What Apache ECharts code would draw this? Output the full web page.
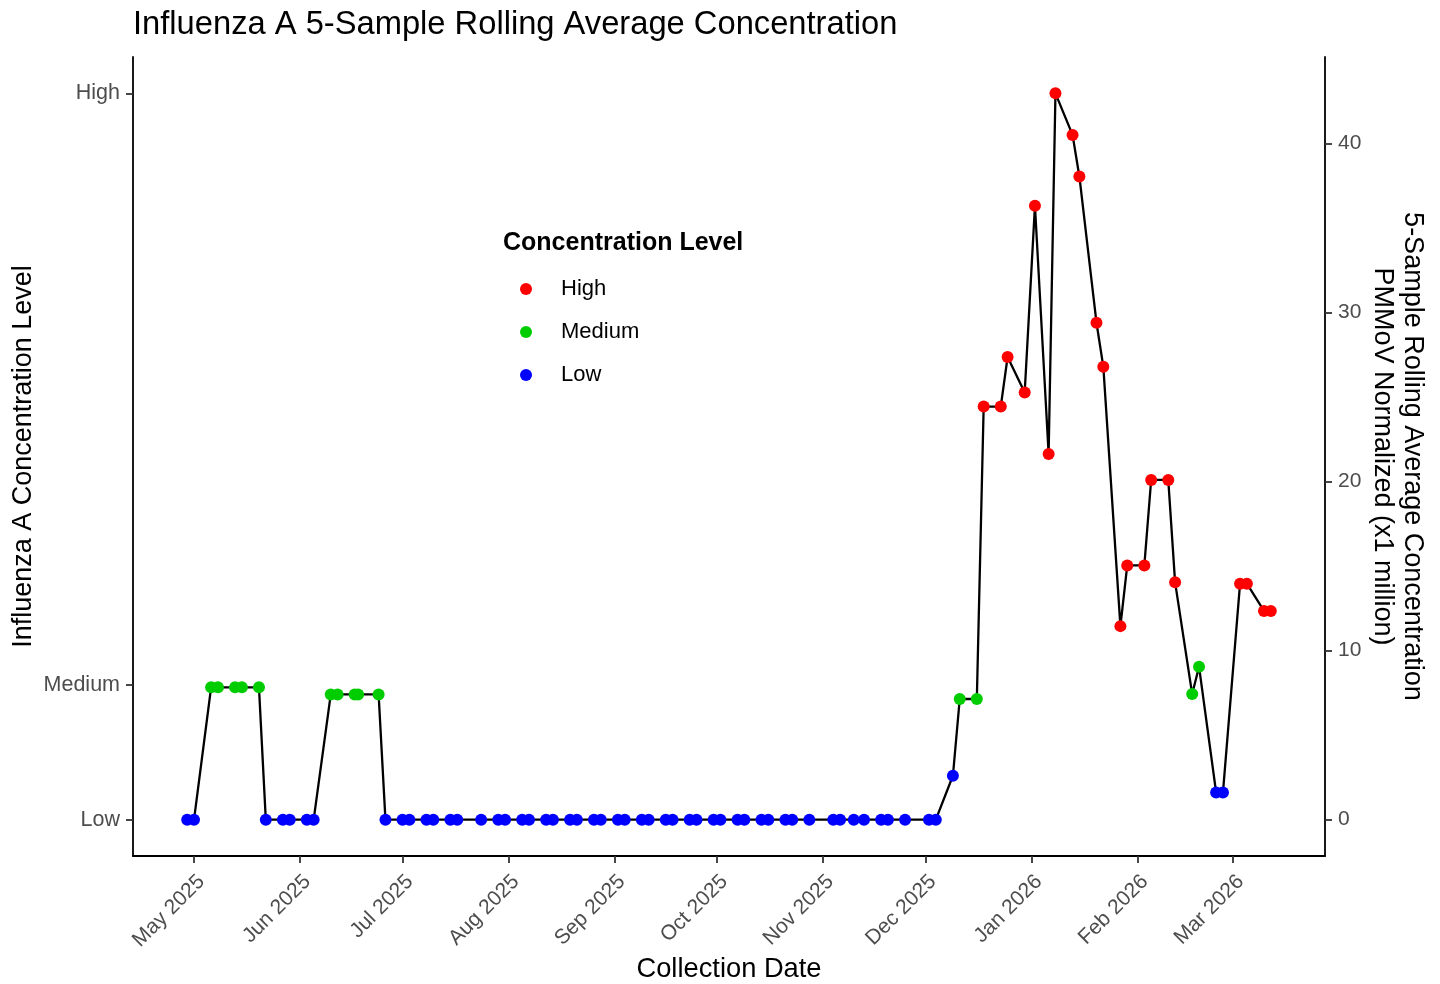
<!DOCTYPE html>
<html>
<head>
<meta charset="utf-8">
<script src="https://cdn.jsdelivr.net/npm/echarts@6/dist/echarts.min.js"></script>
<style>
html,body{margin:0;padding:0;background:#fff;}
#chart{width:1440px;height:984px;}
</style>
</head>
<body>
<div id="chart"></div>
<script>
// ---- data ----
const dates = [
 '2025-04-29','2025-05-01','2025-05-06','2025-05-08','2025-05-13','2025-05-15','2025-05-20','2025-05-22',
 '2025-05-27','2025-05-29','2025-06-03','2025-06-05','2025-06-10','2025-06-12','2025-06-17','2025-06-18',
 '2025-06-24','2025-06-26','2025-07-01','2025-07-03','2025-07-08','2025-07-10','2025-07-15','2025-07-17',
 '2025-07-24','2025-07-29','2025-07-31','2025-08-05','2025-08-07','2025-08-12','2025-08-14','2025-08-19',
 '2025-08-21','2025-08-26','2025-08-28','2025-09-02','2025-09-04','2025-09-09','2025-09-11','2025-09-16',
 '2025-09-18','2025-09-23','2025-09-25','2025-09-30','2025-10-02','2025-10-07','2025-10-09','2025-10-14',
 '2025-10-16','2025-10-21','2025-10-23','2025-10-28','2025-11-04','2025-11-06','2025-11-10','2025-11-13',
 '2025-11-18','2025-11-20','2025-11-25','2025-12-02','2025-12-04','2025-12-09','2025-12-11','2025-12-16',
 '2025-12-18','2025-12-23','2025-12-25','2025-12-30','2026-01-02','2026-01-06','2026-01-08','2026-01-13',
 '2026-01-15','2026-01-20','2026-01-22','2026-01-27','2026-01-29','2026-02-03','2026-02-05','2026-02-10',
 '2026-02-12','2026-02-17','2026-02-19','2026-02-24','2026-02-26','2026-03-03','2026-03-05','2026-03-10',
 '2026-03-12'
];
const values = [
 0,0,7.83,7.83,7.83,7.83,7.83,0,
 0,0,0,0,7.41,7.41,7.41,7.41,
 7.41,0,0,0,0,0,0,0,
 0,0,0,0,0,0,0,0,
 0,0,0,0,0,0,0,0,
 0,0,0,0,0,0,0,0,
 0,0,0,0,0,0,0,0,
 0,0,0,0,0,2.6,7.14,7.14,
 24.44,24.44,27.37,25.27,36.32,21.63,42.97,40.51,
 38.05,29.4,26.8,11.45,15.04,15.04,20.1,20.1,
 14.04,7.43,9.05,1.61,1.61,13.96,13.96,12.35,
 12.35
];
const levels = [
 'Low','Low','Medium','Medium','Medium','Medium','Medium','Low',
 'Low','Low','Low','Low','Medium','Medium','Medium','Medium',
 'Medium','Low','Low','Low','Low','Low','Low','Low',
 'Low','Low','Low','Low','Low','Low','Low','Low',
 'Low','Low','Low','Low','Low','Low','Low','Low',
 'Low','Low','Low','Low','Low','Low','Low','Low',
 'Low','Low','Low','Low','Low','Low','Low','Low',
 'Low','Low','Low','Low','Low','Low','Medium','Medium',
 'High','High','High','High','High','High','High','High',
 'High','High','High','High','High','High','High','High',
 'High','Medium','Medium','Low','Low','High','High','High',
 'High'
];
const levelNames = ['High','Medium','Low'];
const levelColors = {High:'#FF0000', Medium:'#00CD00', Low:'#0000FF'};
const levelTickLabels = ['Low','Medium','High'];
const levelTickValues = [0, 7.96, 42.97];
const concTicks = [0, 10, 20, 30, 40];
const monthTicks = ['2025-05-01','2025-06-01','2025-07-01','2025-08-01','2025-09-01','2025-10-01',
 '2025-11-01','2025-12-01','2026-01-01','2026-02-01','2026-03-01'];
const monthNames = ['Jan','Feb','Mar','Apr','May','Jun','Jul','Aug','Sep','Oct','Nov','Dec'];

// ---- build ----
function ts(s){const p=s.split('-').map(Number);return Date.UTC(p[0],p[1]-1,p[2]);}
const xs = dates.map(ts);
const xMin0 = Math.min(...xs), xMax0 = Math.max(...xs);
const xPad = (xMax0 - xMin0) * 0.05;
const yMax0 = Math.max(...values), yMin0 = 0;
const yPad = (yMax0 - yMin0) * 0.05;

const lineData = xs.map((x,i)=>[x, values[i]]);
const scatterSeries = levelNames.map(lv => ({
  name: lv, type: 'scatter', yAxisIndex: 1, z: 5,
  symbol: 'circle', symbolSize: 12,
  itemStyle: {color: levelColors[lv], opacity: 1},
  data: xs.map((x,i)=>levels[i]===lv ? [x, values[i]] : null).filter(d=>d)
}));

const font = 'Liberation Sans, Arial, sans-serif';
const lineSt = {color: '#000', width: 1.8};
const tickSt = {color: '#333', width: 1.8};

const chart = echarts.init(document.getElementById('chart'), null, {renderer: 'canvas'});
chart.setOption({
  backgroundColor: '#fff',
  animation: false,
  textStyle: {fontFamily: font},
  title: [
    {text: 'Influenza A 5-Sample Rolling Average Concentration', left: 133, top: 8, padding: 0,
     textStyle: {fontFamily: font, fontSize: 32.7, fontWeight: 'normal', color: '#000'}},
    {text: 'Concentration Level', left: 503, top: 231, padding: 0,
     textStyle: {fontFamily: font, fontSize: 25, fontWeight: 'bold', color: '#000'}}
  ],
  legend: {
    orient: 'vertical', left: 515, top: 272,
    data: levelNames, icon: 'circle',
    itemWidth: 60, itemHeight: 12, itemGap: 19,
    textStyle: {fontFamily: font, fontSize: 22, color: '#000', lineHeight: 24},
    selectedMode: false
  },
  grid: {left: 133, right: 115, top: 57, bottom: 128, containLabel: false, outerBoundsMode: 'none'},
  xAxis: {
    type: 'value', min: xMin0 - xPad, max: xMax0 + xPad,
    splitLine: {show: false},
    axisLine: {show: true, onZero: false, lineStyle: lineSt},
    name: 'Collection Date', nameLocation: 'middle', nameGap: 100, nameMoveOverlap: false,
    nameTextStyle: {fontFamily: font, fontSize: 27.3, color: '#000'},
    axisTick: {show: true, length: 7, lineStyle: tickSt, customValues: monthTicks.map(ts)},
    axisLabel: {customValues: monthTicks.map(ts), rotate: 45, margin: 15, verticalAlign: 'top', fontSize: 21, color: '#4D4D4D', fontFamily: font,
      formatter: v => { const d = new Date(v); return monthNames[d.getUTCMonth()] + ' ' + d.getUTCFullYear(); }}
  },
  yAxis: [
    {
      type: 'value', position: 'left', min: yMin0 - yPad, max: yMax0 + yPad,
      splitLine: {show: false},
      axisLine: {show: true, onZero: false, lineStyle: lineSt},
      name: 'Influenza A Concentration Level', nameLocation: 'middle', nameGap: 96, nameMoveOverlap: false,
      nameTextStyle: {fontFamily: font, fontSize: 27, color: '#000'},
      axisTick: {show: true, length: 7, lineStyle: tickSt, customValues: levelTickValues},
      axisLabel: {customValues: levelTickValues, margin: 13, fontSize: 21.5, color: '#4D4D4D', fontFamily: font,
        formatter: v => { const i = levelTickValues.findIndex(t => Math.abs(t - v) < 1e-6); return i >= 0 ? levelTickLabels[i] : ''; }}
    },
    {
      type: 'value', position: 'right', min: yMin0 - yPad, max: yMax0 + yPad,
      splitLine: {show: false},
      axisLine: {show: true, onZero: false, lineStyle: lineSt},
      name: '5-Sample Rolling Average Concentration\nPMMoV Normalized (x1 million)',
      nameLocation: 'middle', nameGap: 42, nameRotate: -90, nameMoveOverlap: false,
      nameTextStyle: {fontFamily: font, fontSize: 27, color: '#000', lineHeight: 30, align: 'center'},
      axisTick: {show: true, length: 7, lineStyle: tickSt, customValues: concTicks},
      axisLabel: {customValues: concTicks, margin: 13, fontSize: 21, color: '#4D4D4D', fontFamily: font}
    }
  ],
  series: [
    {name: 'line', type: 'line', yAxisIndex: 1, showSymbol: false, symbol: 'none', z: 3,
     lineStyle: {color: '#000', width: 2.3}, data: lineData, legendHoverLink: false}
  ].concat(scatterSeries)
});
</script>
</body>
</html>
